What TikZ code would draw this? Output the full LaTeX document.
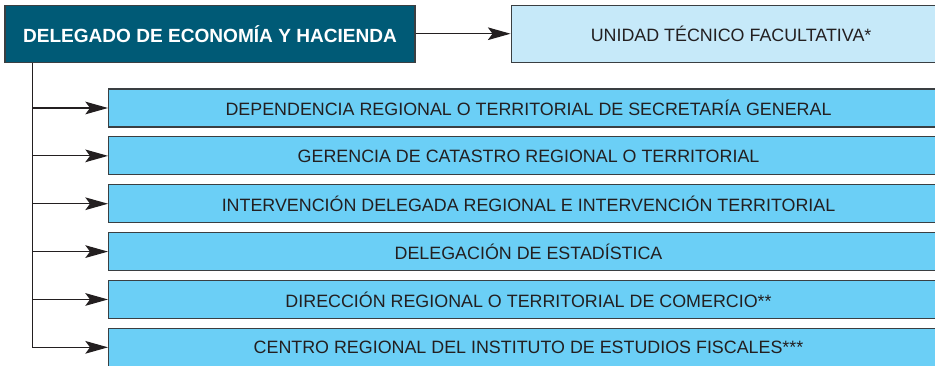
\documentclass[tikz,border=0pt]{standalone}
\usepackage{fontspec}
\setsansfont{Liberation Sans}
\usepackage{xcolor}
\usetikzlibrary{arrows.meta, positioning, calc}
\definecolor{petrol}{HTML}{005A76}
\definecolor{paleblue}{HTML}{C6E9F9}
\definecolor{skyblue}{HTML}{6BCFF6}
\definecolor{edge}{HTML}{3A3F42}
\definecolor{ink}{HTML}{231F20}
\tikzset{
  box/.style={
    rectangle, draw=edge, line width=0.8pt,
    inner sep=0pt, align=center, text=ink,
    font=\sffamily\fontsize{13.4}{16}\selectfont
  },
  headbox/.style={box, fill=petrol, text=white,
    font=\sffamily\bfseries\fontsize{14.3}{17}\selectfont,
    minimum width=307.5pt, minimum height=43pt},
  unitbox/.style={box, fill=paleblue, minimum width=330pt, minimum height=43pt},
  subbox/.style={box, fill=skyblue, minimum width=630pt, minimum height=28.5pt},
  link/.style={line width=0.9pt, draw=ink},
  arrow/.style={link, -{Stealth[length=17pt, width=9.5pt, inset=3.5pt]}},
}

\begin{document}
\begin{tikzpicture}
  \useasboundingbox (0,0) rectangle (701.25pt,-274.5pt);
  \clip (0,0) rectangle (701.25pt,-274.5pt);

  \node[headbox] (head) at (157.5pt,-25.3pt) {DELEGADO DE ECONOMÍA Y HACIENDA};
  \node[unitbox, right=71.25pt of head] (unit) {UNIDAD TÉCNICO FACULTATIVA*};

  \node[subbox, anchor=west] (dep) at (81pt,-81pt)
    {DEPENDENCIA REGIONAL O TERRITORIAL DE SECRETARÍA GENERAL};
  \node[subbox, below=6.6pt of dep] (cat) {GERENCIA DE CATASTRO REGIONAL O TERRITORIAL};
  \node[subbox, below=6.6pt of cat] (int) {INTERVENCIÓN DELEGADA REGIONAL E INTERVENCIÓN TERRITORIAL};
  \node[subbox, below=6.6pt of int] (est) {DELEGACIÓN DE ESTADÍSTICA};
  \node[subbox, below=6.6pt of est] (com) {DIRECCIÓN REGIONAL O TERRITORIAL DE COMERCIO**};
  \node[subbox, below=6.6pt of com] (ief) {CENTRO REGIONAL DEL INSTITUTO DE ESTUDIOS FISCALES***};

  \draw[arrow] (head) -- (unit);

  % trunk down the left side
  \coordinate (trunk) at ($(head.south west)+(21pt,0)$);
  \draw[arrow] (trunk) |- (ief.west);
  \foreach \n in {dep, cat, int, est, com}
    \draw[arrow] (trunk |- \n.west) -- (\n.west);
\end{tikzpicture}
\end{document}
